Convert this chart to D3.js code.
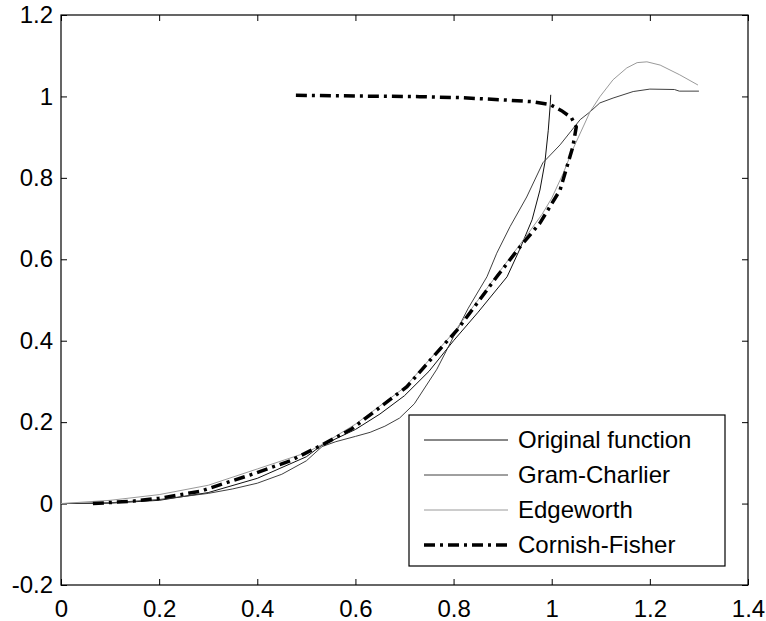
<!DOCTYPE html>
<html>
<head>
<meta charset="utf-8">
<script src="https://cdn.jsdelivr.net/npm/d3@7"></script>
<style>
  body { margin: 0; background: #fff; }
  svg text { font-family: "Liberation Sans", Arial, sans-serif; }
  .line { fill: none; }
</style>
</head>
<body>
<div class="vis-linechart"></div>
<script>
// tick values
var xTicks = [0, 0.2, 0.4, 0.6, 0.8, 1, 1.2, 1.4];
var yTicks = [-0.2, 0, 0.2, 0.4, 0.6, 0.8, 1, 1.2];

// original function (empirical cdf, ends at x = 1)
var origX = [0, 0.1, 0.2, 0.3, 0.4, 0.5, 0.53, 0.6, 0.65, 0.7, 0.75, 0.8, 0.85, 0.909, 0.935, 0.96, 0.976, 0.986, 0.993, 0.997, 0.998];
var origY = [0, 0.001, 0.008, 0.027, 0.062, 0.115, 0.142, 0.182, 0.22, 0.265, 0.325, 0.4, 0.47, 0.557, 0.625, 0.697, 0.77, 0.837, 0.917, 0.98, 1.004];

// Gram-Charlier
var gcX = [0, 0.1, 0.2, 0.3, 0.35, 0.4, 0.45, 0.5, 0.532, 0.56, 0.6, 0.63, 0.66, 0.69, 0.72, 0.766, 0.8, 0.83, 0.868, 0.888, 0.915, 0.949, 0.982, 1.017, 1.058, 1.078, 1.098, 1.125, 1.166, 1.2, 1.25, 1.26, 1.3];
var gcY = [0, 0.002, 0.01, 0.025, 0.036, 0.05, 0.072, 0.105, 0.14, 0.152, 0.165, 0.175, 0.19, 0.21, 0.245, 0.33, 0.41, 0.48, 0.557, 0.615, 0.68, 0.753, 0.837, 0.881, 0.943, 0.962, 0.984, 0.996, 1.012, 1.018, 1.017, 1.013, 1.013];

// Edgeworth
var edX = [0, 0.1, 0.2, 0.3, 0.4, 0.5, 0.532, 0.6, 0.7, 0.8, 0.85, 0.9, 0.95, 0.98, 1.0, 1.023, 1.043, 1.064, 1.078, 1.098, 1.125, 1.153, 1.174, 1.194, 1.221, 1.261, 1.298];
var edY = [0, 0.008, 0.022, 0.045, 0.085, 0.125, 0.145, 0.195, 0.285, 0.42, 0.5, 0.58, 0.66, 0.71, 0.75, 0.81, 0.87, 0.925, 0.962, 0.999, 1.041, 1.07, 1.083, 1.085, 1.077, 1.053, 1.028];

// Cornish-Fisher (turns back at the top)
var cfX = [0.065, 0.147, 0.2, 0.283, 0.385, 0.467, 0.532, 0.592, 0.643, 0.705, 0.758, 0.807, 0.848, 0.888, 0.935, 0.976, 1.017, 1.043, 1.05, 1.04, 1.02, 0.997, 0.962, 0.909, 0.813, 0.731, 0.6, 0.475];
var cfY = [0, 0.006, 0.013, 0.03, 0.07, 0.105, 0.144, 0.183, 0.23, 0.287, 0.36, 0.426, 0.492, 0.557, 0.63, 0.689, 0.77, 0.876, 0.925, 0.948, 0.965, 0.98, 0.987, 0.991, 0.997, 0.9995, 1.001, 1.003];

var seriesNames = ["Original function", "Gram-Charlier", "Edgeworth", "Cornish-Fisher"];

var width = 766, height = 621;
var margin = { top: 15, right: 18, bottom: 36, left: 61 };
var w = width - margin.left - margin.right;
var h = height - margin.top - margin.bottom;

var svg = d3.select('.vis-linechart').append("svg")
    .attr("width", width)
    .attr("height", height)
    .append("g")
    .attr("transform", "translate(" + margin.left + "," + margin.top + ")");

var x = d3.scaleLinear().domain([0, 1.4]).range([0, w]);
var y = d3.scaleLinear().domain([-0.2, 1.2]).range([h, 0]);

// plain hyphen minus, like matlab
var fmt = function (d) { return String(+d.toFixed(1)); };
var fontSize = "24px";

// axes, ticks pointing inward like matlab
var gx = svg.append("g")
    .attr("transform", "translate(0," + h + ")")
    .call(d3.axisBottom(x).tickValues(xTicks).tickFormat(fmt).tickSizeInner(-6).tickSizeOuter(0).tickPadding(15));
var gy = svg.append("g")
    .call(d3.axisLeft(y).tickValues(yTicks).tickFormat(fmt).tickSizeInner(-6).tickSizeOuter(0).tickPadding(8));
var gx2 = svg.append("g")
    .call(d3.axisTop(x).tickValues(xTicks).tickFormat("").tickSizeInner(-6).tickSizeOuter(0));
var gy2 = svg.append("g")
    .attr("transform", "translate(" + w + ",0)")
    .call(d3.axisRight(y).tickValues(yTicks).tickFormat("").tickSizeInner(-6).tickSizeOuter(0));

[gx, gy, gx2, gy2].forEach(function (g) {
    g.select(".domain").remove();
    g.selectAll("line").attr("stroke", "#000");
    g.selectAll("text").attr("fill", "#000").style("font-size", fontSize);
});

svg.append("rect")
    .attr("x", 0).attr("y", 0).attr("width", w).attr("height", h)
    .attr("fill", "none").attr("stroke", "#000").attr("stroke-width", 1.2);

var line = d3.line()
    .x(function (d) { return x(d[0]); })
    .y(function (d) { return y(d[1]); });

function pairs(xs, ys) { return xs.map(function (v, i) { return [v, ys[i]]; }); }

var styles = [
    { color: "#111", width: 1, dash: null },
    { color: "#404040", width: 1, dash: null },
    { color: "#9a9a9a", width: 1, dash: null },
    { color: "#000", width: 3.5, dash: "11,5,3,5" }
];
var series = [pairs(origX, origY), pairs(gcX, gcY), pairs(edX, edY), pairs(cfX, cfY)];

series.forEach(function (s, i) {
    svg.append("path")
        .datum(s)
        .attr("class", "line")
        .attr("stroke", styles[i].color)
        .attr("stroke-width", styles[i].width)
        .attr("stroke-dasharray", styles[i].dash)
        .attr("d", line);
});

// legend
var lg = svg.append("g").attr("transform", "translate(" + (409 - margin.left) + "," + (415 - margin.top) + ")");
lg.append("rect")
    .attr("width", 316).attr("height", 151)
    .attr("fill", "#fff").attr("stroke", "#000").attr("stroke-width", 1.2);
seriesNames.forEach(function (name, i) {
    var cy = 25 + i * 35;
    lg.append("line")
        .attr("x1", 15).attr("x2", 99).attr("y1", cy).attr("y2", cy)
        .attr("stroke", styles[i].color)
        .attr("stroke-width", styles[i].width)
        .attr("stroke-dasharray", styles[i].dash);
    lg.append("text")
        .attr("x", 109).attr("y", cy).attr("dy", "0.35em")
        .style("font-size", fontSize)
        .text(name);
});
</script>
</body>
</html>
